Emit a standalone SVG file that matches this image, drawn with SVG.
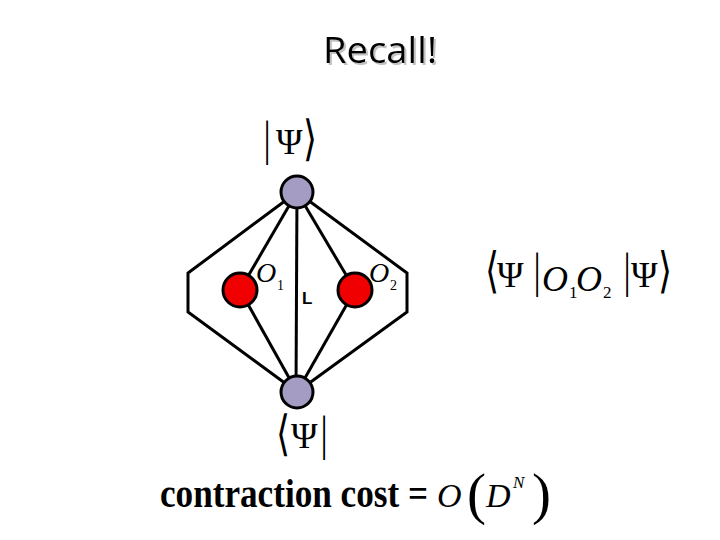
<svg xmlns="http://www.w3.org/2000/svg" width="720" height="540" viewBox="0 0 720 540">
<defs>
<style>
.e{stroke:#000;stroke-width:3;fill:none;stroke-linejoin:miter}
.psi{fill:#a59cc4;stroke:#000;stroke-width:3}
.op{fill:#f00000;stroke:#000;stroke-width:3}
.m{font-family:"Liberation Serif",serif;fill:#000}
.i{font-style:italic}
.br{font-family:"Liberation Serif","DejaVu Serif",serif;font-size:36px;fill:#000}
</style>
<filter id="sh" x="-10%" y="-10%" width="130%" height="140%">
<feDropShadow dx="2" dy="2" stdDeviation="0.6" flood-color="#999" flood-opacity="0.6"/>
</filter>
</defs>
<rect width="720" height="540" fill="#fff"/>
<text x="380" y="63" text-anchor="middle" font-family="Open Sans, sans-serif" font-size="37" textLength="114" lengthAdjust="spacingAndGlyphs" fill="#000" filter="url(#sh)">Recall!</text>
<g id="connectors">
<polyline class="e" points="297,192 188,273 188,312 297,392"/>
<polyline class="e" points="297,192 407,273 407,312 297,392"/>
<line class="e" x1="297" y1="192" x2="296" y2="392"/>
<line class="e" x1="297" y1="192" x2="240" y2="290"/>
<line class="e" x1="240" y1="290" x2="297" y2="392"/>
<line class="e" x1="297" y1="192" x2="355" y2="290"/>
<line class="e" x1="355" y1="290" x2="297" y2="392"/>
</g>
<g id="ket">
<circle class="psi" cx="297" cy="192" r="16"/>
<text class="br" transform="translate(263.5 154.5) scale(1 1.34)">|</text>
<text class="m" x="276" y="154" font-size="36">Ψ</text>
<text class="br" transform="translate(303 154.5) scale(1 1.34)">⟩</text>
</g>
<g id="bra">
<circle class="psi" cx="297" cy="392" r="16"/>
<text class="br" transform="translate(276 449.5) scale(1 1.34)">⟨</text>
<text class="m" x="291" y="448" font-size="36">Ψ</text>
<text class="br" transform="translate(320.5 449.5) scale(1 1.34)">|</text>
</g>
<g id="O1">
<circle class="op" cx="240" cy="290" r="17"/>
<text class="m i" x="256" y="282" font-size="28">O</text>
<text class="m" x="277" y="290" font-size="14">1</text>
</g>
<g id="O2">
<circle class="op" cx="355" cy="290" r="17"/>
<text class="m i" x="369" y="282" font-size="28">O</text>
<text class="m" x="390" y="290" font-size="14">2</text>
</g>
<text x="302" y="304" font-family="Liberation Sans, sans-serif" font-size="17" font-weight="bold" fill="#000">L</text>
<g id="formula">
<text class="br" transform="translate(485 286.5) scale(1 1.36)">⟨</text>
<text class="m" x="497" y="287" font-size="36">Ψ</text>
<text class="br" transform="translate(533.5 286.5) scale(1 1.36)">|</text>
<text class="m i" x="542" y="291" font-size="36">O</text>
<text class="m" x="569" y="298" font-size="17">1</text>
<text class="m i" x="576" y="291" font-size="36">O</text>
<text class="m" x="603" y="298" font-size="17">2</text>
<text class="br" transform="translate(623.5 286.5) scale(1 1.36)">|</text>
<text class="m" x="631" y="287" font-size="36">Ψ</text>
<text class="br" transform="translate(658 286.5) scale(1 1.36)">⟩</text>
</g>
<g id="cost">
<text class="m" x="160" y="507" font-size="40" font-weight="bold" textLength="268" lengthAdjust="spacingAndGlyphs">contraction cost =</text>
<text class="m i" x="437" y="507" font-size="34">O</text>
<text class="m" x="467" y="513" font-size="57">(</text>
<text class="m i" x="486" y="507" font-size="34">D</text>
<text class="m i" x="513" y="488" font-size="17">N</text>
<text class="m" x="532" y="513" font-size="57">)</text>
</g>
</svg>
